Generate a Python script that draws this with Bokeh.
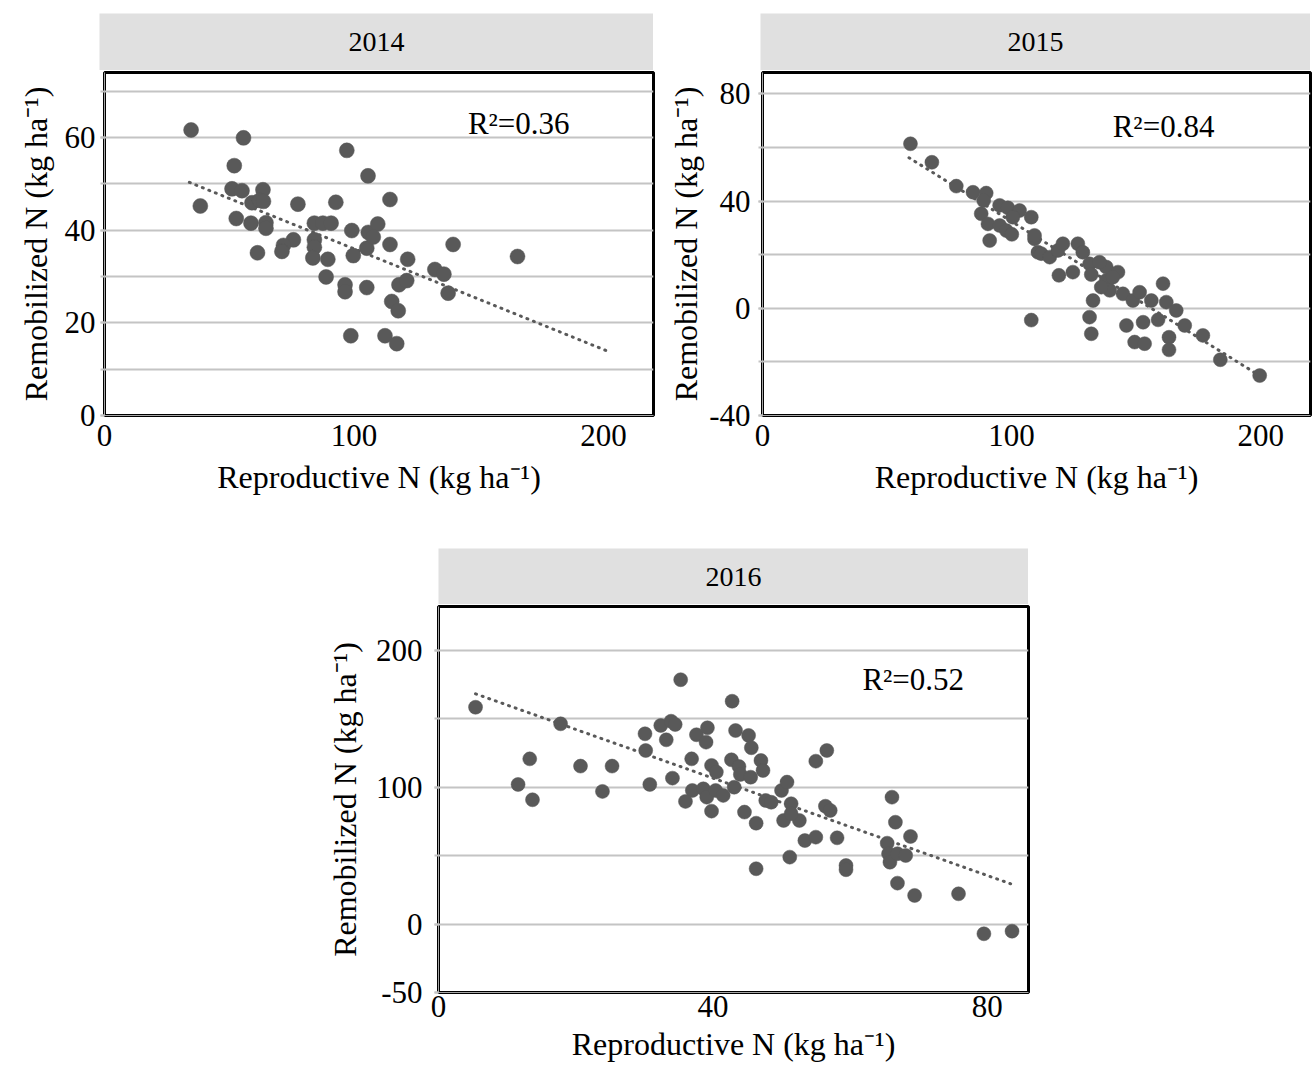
from bokeh.plotting import figure
from bokeh.layouts import column, row
from bokeh.models import Spacer, Range1d, FixedTicker, Label
from bokeh.embed import file_html
from bokeh.resources import INLINE
from bokeh.core.properties import value

SERIF = "Liberation Serif"
MARK = "#595959"
GRID = "#c4c4c4"
STRIP = "#e0e0e0"

years = ["2014", "2015", "2016"]
r2_labels = ["R²=0.36", "R²=0.84", "R²=0.52"]
x_title = "Reproductive N (kg ha⁻¹)"
y_title = "Remobilized N (kg ha⁻¹)"

# 2014: reproductive N vs remobilized N (kg/ha)
x2014 = [34.7, 55.7, 97.1, 52.0, 105.6, 51.1, 55.1, 63.5, 38.4, 59.1, 62.1, 63.7,
         77.5, 92.7, 52.8, 58.7, 64.7, 64.7, 84.1, 87.5, 90.8, 99.1, 105.7, 109.5,
         75.7, 71.7, 71.1, 84.1, 84.1, 61.3, 83.5, 89.5, 99.7, 105.1, 88.8, 96.4,
         96.4, 105.1, 98.7, 114.4, 107.7, 114.4, 139.7, 165.5, 121.5, 118.0, 121.1,
         132.4, 136.0, 137.7, 115.1, 117.7, 112.4, 117.1]
y2014 = [61.6, 59.9, 57.2, 53.9, 51.7, 48.9, 48.5, 48.7, 45.2, 45.9, 46.4, 46.2,
         45.6, 46.0, 42.5, 41.5, 41.6, 40.4, 41.5, 41.5, 41.5, 39.9, 39.5, 41.3,
         37.9, 36.7, 35.4, 37.9, 36.3, 35.1, 34.0, 33.7, 34.5, 36.1, 29.9, 28.2,
         26.7, 27.6, 17.2, 46.6, 38.5, 36.9, 36.9, 34.3, 33.7, 28.2, 29.1,
         31.5, 30.5, 26.4, 24.6, 22.6, 17.2, 15.5]
trend2014_x = [34.0, 202.0]
trend2014_y = [50.3, 13.8]

# 2015
x2015 = [59.4, 68.0, 77.8, 84.5, 89.8, 88.8, 95.2, 98.5, 103.2, 107.9, 87.8, 90.5,
         95.2, 97.9, 100.1, 91.2, 100.5, 109.2, 110.6, 107.9, 109.2, 111.9, 115.3,
         118.6, 120.6, 126.6, 128.6, 119.0, 124.6, 131.3, 132.0, 138.0, 142.7, 138.0,
         139.4, 144.7, 148.7, 151.4, 156.1, 160.8, 162.1, 166.1, 169.5, 176.8, 183.8,
         199.6, 132.7, 131.3, 132.0, 146.1, 152.8, 149.4, 153.4, 158.8, 163.2, 163.2,
         135.3, 140.6, 136.0]
y2015 = [61.4, 54.5, 45.6, 43.3, 43.0, 40.2, 38.4, 37.5, 36.5, 34.0, 35.3, 31.5,
         30.9, 29.0, 27.6, 25.3, 34.0, 25.9, 20.9, -4.4, 27.2, 20.4, 19.1,
         21.6, 24.1, 24.1, 20.9, 12.3, 13.5, 16.6, 12.6, 15.4, 13.5, 10.4,
         6.7, 5.4, 2.9, 6.0, 2.9, 9.2, 2.3, -0.8, -6.4, -10.1, -19.2,
         -25.1, 2.9, -3.3, -9.5, -6.4, -5.2, -12.6, -13.2, -4.3, -10.8, -15.5,
         17.2, 11.6, 7.9]
trend2015_x = [58.8, 198.3]
trend2015_y = [56.2, -24.4]

# 2016
x2016 = [5.4, 17.8, 13.3, 11.6, 13.7, 20.7, 25.3, 23.9, 30.1, 30.2, 30.8, 35.3,
         32.4, 33.9, 34.5, 33.2, 34.1, 37.6, 39.2, 39.0, 36.9, 39.8, 40.5, 37.0,
         38.6, 39.1, 40.4, 41.5, 36.0, 39.8, 42.8, 43.3, 42.7, 43.1, 45.2, 45.6,
         43.8, 44.0, 45.5, 47.0, 47.3, 44.6, 46.3, 46.3, 47.7, 48.5, 50.0, 50.8,
         51.4, 50.3, 52.6, 51.4, 51.2, 53.4, 55.0, 55.0, 56.6, 56.4, 57.1, 58.1,
         59.4, 59.4, 66.1, 66.6, 68.8, 65.4, 65.6, 65.8, 66.9, 68.1, 66.9, 69.4,
         75.8, 79.5, 83.6]
y2016 = [158.4, 146.3, 120.7, 102.0, 90.8, 115.4, 115.4, 96.9, 139.0, 126.8, 102.0, 178.5,
         145.1, 148.2, 145.8, 134.6, 106.6, 138.3, 143.4, 132.9, 120.7, 115.9, 111.0, 97.6,
         98.8, 92.7, 97.6, 94.0, 89.6, 82.5, 162.8, 141.4, 120.0, 100.0, 137.8, 128.8,
         115.1, 109.3, 107.3, 119.5, 112.2, 81.8, 73.7, 40.4, 90.3, 89.0, 97.6, 103.7,
         87.9, 75.7, 75.7, 80.6, 48.9, 61.0, 63.5, 119.0, 126.8, 86.1, 83.0, 63.0,
         42.8, 39.7, 92.7, 74.4, 64.0, 59.1, 51.4, 45.2, 51.4, 50.1, 29.9, 20.9,
         22.1, -7.1, -5.2]
trend2016_x = [5.4, 83.4]
trend2016_y = [168.2, 29.4]


def strip(label, width, height):
    h = figure(width=width, height=height, x_range=Range1d(0, 1), y_range=Range1d(0, 1),
               x_axis_type=None, y_axis_type=None, toolbar_location=None,
               output_backend="svg", min_border=0, outline_line_color=None,
               background_fill_color=STRIP, border_fill_color=STRIP)
    h.grid.visible = False
    h.text(x=[0.5], y=[0.5], text=[label], text_align="center", text_baseline="middle",
           text_font=value(SERIF), text_font_size="28px", text_color="black")
    return h


def panel(xs, ys, tx, ty, r2, r2_at, x_end, y_rng, x_ticks, y_ticks, y_grid,
          size, frame, borders, x_stand, y_stand):
    left, right, top, bottom = borders
    p = figure(frame_width=frame[0], frame_height=frame[1],
               x_range=Range1d(0, x_end), y_range=Range1d(*y_rng),
               toolbar_location=None, output_backend="svg",
               min_border_left=left, min_border_right=right,
               min_border_top=top, min_border_bottom=bottom,
               background_fill_color="white", border_fill_color="white",
               outline_line_color="black", outline_line_width=3)
    p.xgrid.visible = False
    p.ygrid.ticker = FixedTicker(ticks=y_grid)
    p.ygrid.grid_line_color = GRID
    p.ygrid.grid_line_width = 2

    p.xaxis.ticker = FixedTicker(ticks=x_ticks)
    p.yaxis.ticker = FixedTicker(ticks=y_ticks, minor_ticks=y_grid)
    # plain hyphen for negative tick values
    p.yaxis.major_label_overrides = {t: str(t) for t in y_ticks if t < 0}
    for ax in (p.xaxis[0], p.yaxis[0]):
        ax.axis_line_color = "#a6a6a6"
        ax.axis_line_width = 1
        ax.major_label_text_font = SERIF
        ax.major_label_text_font_size = "31px"
        ax.major_label_text_color = "black"
        ax.axis_label_text_font = SERIF
        ax.axis_label_text_font_size = "32px"
        ax.axis_label_text_font_style = "normal"
        ax.axis_label_text_color = "black"
    p.xaxis.major_tick_out = 0
    p.xaxis.major_tick_in = 0
    p.xaxis.minor_tick_out = 0
    p.xaxis.minor_tick_in = 0
    p.xaxis.major_label_standoff = x_stand[0]
    p.xaxis.axis_label_standoff = x_stand[1]
    p.yaxis.major_tick_out = 4
    p.yaxis.major_tick_in = 0
    p.yaxis.minor_tick_out = 4
    p.yaxis.minor_tick_in = 0
    p.yaxis.major_tick_line_color = GRID
    p.yaxis.minor_tick_line_color = GRID
    p.yaxis.major_tick_line_width = 2
    p.yaxis.minor_tick_line_width = 2
    p.yaxis.major_label_standoff = y_stand[0]
    p.yaxis.axis_label_standoff = y_stand[1]
    p.xaxis.axis_label = x_title
    p.yaxis.axis_label = y_title

    p.line(tx, ty, line_color=MARK, line_width=3, line_dash="1 6", line_cap="round")
    p.scatter(xs, ys, size=size, fill_color=MARK, line_color=MARK, line_width=0.5)
    p.add_layout(Label(x=r2_at[0], y=r2_at[1], text=r2, text_font=SERIF,
                       text_font_size="31px", text_color="black",
                       text_align="center", text_baseline="middle"))
    return p


p2014 = panel(x2014, y2014, trend2014_x, trend2014_y, r2_labels[0], (166, 63),
              220, (0, 74), [0, 100, 200], [0, 20, 40, 60], [0, 10, 20, 30, 40, 50, 60, 70],
              15, (549, 343), (104, 9, 2, 100), (9, 10), (5, 8))
p2015 = panel(x2015, y2015, trend2015_x, trend2015_y, r2_labels[1], (161, 68),
              220, (-40, 88), [0, 100, 200], [-40, 0, 40, 80], [-40, -20, 0, 20, 40, 60, 80],
              14, (548, 343), (100, 4, 2, 100), (9, 10), (8, 2))
p2016 = panel(x2016, y2016, trend2016_x, trend2016_y, r2_labels[2], (69.2, 178.5),
              86, (-50, 232), [0, 40, 80], [-50, 0, 100, 200], [-50, 0, 50, 100, 150, 200],
              14, (590, 386), (125, 10, 2, 82), (3, 6), (12, 10))

layout = column(
    Spacer(height=13),
    row(Spacer(width=99), strip(years[0], 554, 57), Spacer(width=107), strip(years[1], 550, 57)),
    row(p2014, p2015),
    Spacer(height=33),
    row(Spacer(width=438), strip(years[2], 590, 56)),
    row(Spacer(width=313), p2016),
)

open("out.html", "w").write(file_html(layout, INLINE))
